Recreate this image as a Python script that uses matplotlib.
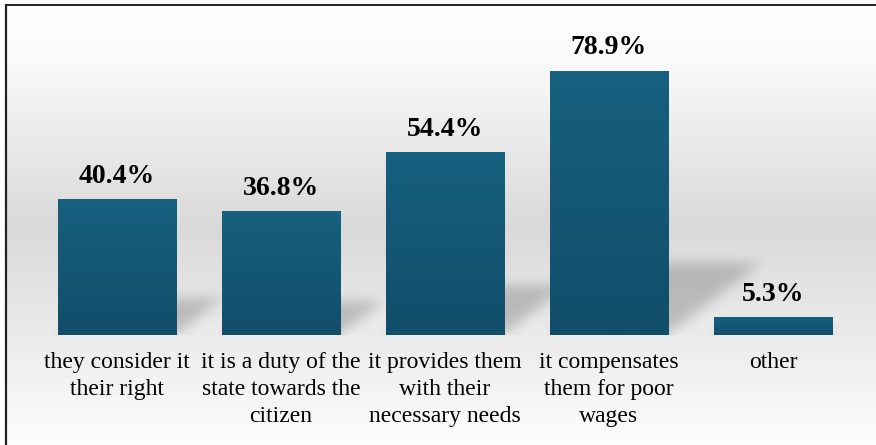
import numpy as np
import matplotlib
matplotlib.use('Agg')
import matplotlib.pyplot as plt
from matplotlib.lines import Line2D

categories = ["they consider it\ntheir right",
              "it is a duty of the\nstate towards the\ncitizen",
              "it provides them\nwith their\nnecessary needs",
              "it compensates\nthem for poor\nwages",
              "other"]
values = [40.4, 36.8, 54.4, 78.9, 5.3]
value_labels = ["40.4%", "36.8%", "54.4%", "78.9%", "5.3%"]

plt.rcParams['font.family'] = ['Liberation Serif', 'DejaVu Serif']

W, H = 876, 445
DPI = 100
fig = plt.figure(figsize=(W / DPI, H / DPI), dpi=DPI)
fig.patch.set_facecolor('white')

# ---- background gradient (white -> gray -> white) inside the frame
bg = fig.add_axes([6 / W, 0, (W - 6) / W, (H - 6) / H], zorder=0)
bg.set_axis_off()
rows = np.arange(6, H)
prof = np.interp(rows, [6, 60, 225, 445], [255, 250, 217, 253]) / 255.0
grad = np.repeat(prof[:, None], 2, axis=1)
bg_rgb = np.dstack([grad, grad, grad])
bg.imshow(bg_rgb, aspect='auto', extent=[0, 1, 0, 1], origin='upper')
bg.set_xlim(0, 1)
bg.set_ylim(0, 1)

# frame lines (left & top only visible)
fig.add_artist(Line2D([5.5 / W, 5.5 / W], [0, 1 - 5.0 / H], color='#222222', lw=1.6,
                      transform=fig.transFigure))
fig.add_artist(Line2D([5.5 / W, 1], [1 - 5.0 / H, 1 - 5.0 / H], color='#222222', lw=1.4,
                      transform=fig.transFigure))

# ---- main axes
y_top = 90
ax_left, ax_right = 35, 855
base_px = 335
px_per_unit = 264 / 78.9
ax_h_px = y_top * px_per_unit
ax = fig.add_axes([ax_left / W, (H - base_px) / H, (ax_right - ax_left) / W, ax_h_px / H], zorder=1)
ax.patch.set_alpha(0)

x = np.arange(len(categories))
bw = 0.72
bars = ax.bar(x, values, width=bw, color='#145878', zorder=3)

# bar gradients
top_c = np.array([0x17, 0x60, 0x80]) / 255.0
bot_c = np.array([0x11, 0x4e, 0x69]) / 255.0
t = np.linspace(0, 1, 64)[:, None]
bar_grad = (top_c[None, :] * (1 - t) + bot_c[None, :] * t)[:, None, :]
for xi, v in zip(x, values):
    ax.imshow(bar_grad, extent=[xi - bw / 2, xi + bw / 2, 0, v], aspect='auto',
              origin='upper', zorder=4, interpolation='bilinear')

# ---- perspective shadows (derived from bar heights)
nx = ax_right - ax_left
ny = int(round(ax_h_px))
xunit_px = nx / 5.0
mask = np.zeros((ny, nx))
for xi, v in zip(x, values):
    hpx = v * px_per_unit
    hs = 0.27 * hpx
    l_px = (xi - bw / 2 + 0.5) * xunit_px
    r_px = (xi + bw / 2 + 0.5) * xunit_px
    for r in range(int(hs) + 1):
        a = int(l_px + 1.3 * r)
        b = int(r_px + 1.3 * r)
        mask[r, max(a, 0):min(b, nx)] = 1.0


def blur(arr, sigma):
    k = np.arange(-3 * sigma, 3 * sigma + 1)
    g = np.exp(-k ** 2 / (2 * sigma ** 2))
    g /= g.sum()
    arr = np.apply_along_axis(lambda m: np.convolve(m, g, mode='same'), 1, arr)
    arr = np.apply_along_axis(lambda m: np.convolve(m, g, mode='same'), 0, arr)
    return arr


mask = blur(mask, 6)
shadow = np.zeros((ny, nx, 4))
shadow[..., 3] = 0.19 * mask
ax.imshow(shadow, extent=[-0.5, 4.5, 0, y_top], origin='lower', aspect='auto', zorder=2)

# ---- value labels
for xi, v, lab in zip(x, values, value_labels):
    ax.annotate(lab, (xi, v), xytext=(0, 12), textcoords='offset points',
                ha='center', va='baseline', fontsize=20, fontweight='bold', color='black',
                zorder=5)

ax.set_xlim(-0.5, 4.5)
ax.set_ylim(0, y_top)
ax.set_xticks(x)
ax.set_xticklabels(categories, fontsize=17, linespacing=1.38, color='black')
ax.tick_params(axis='x', length=0, pad=12)
ax.set_yticks([])
for s in ax.spines.values():
    s.set_visible(False)

fig.savefig('out.png', dpi=DPI, facecolor='white')
